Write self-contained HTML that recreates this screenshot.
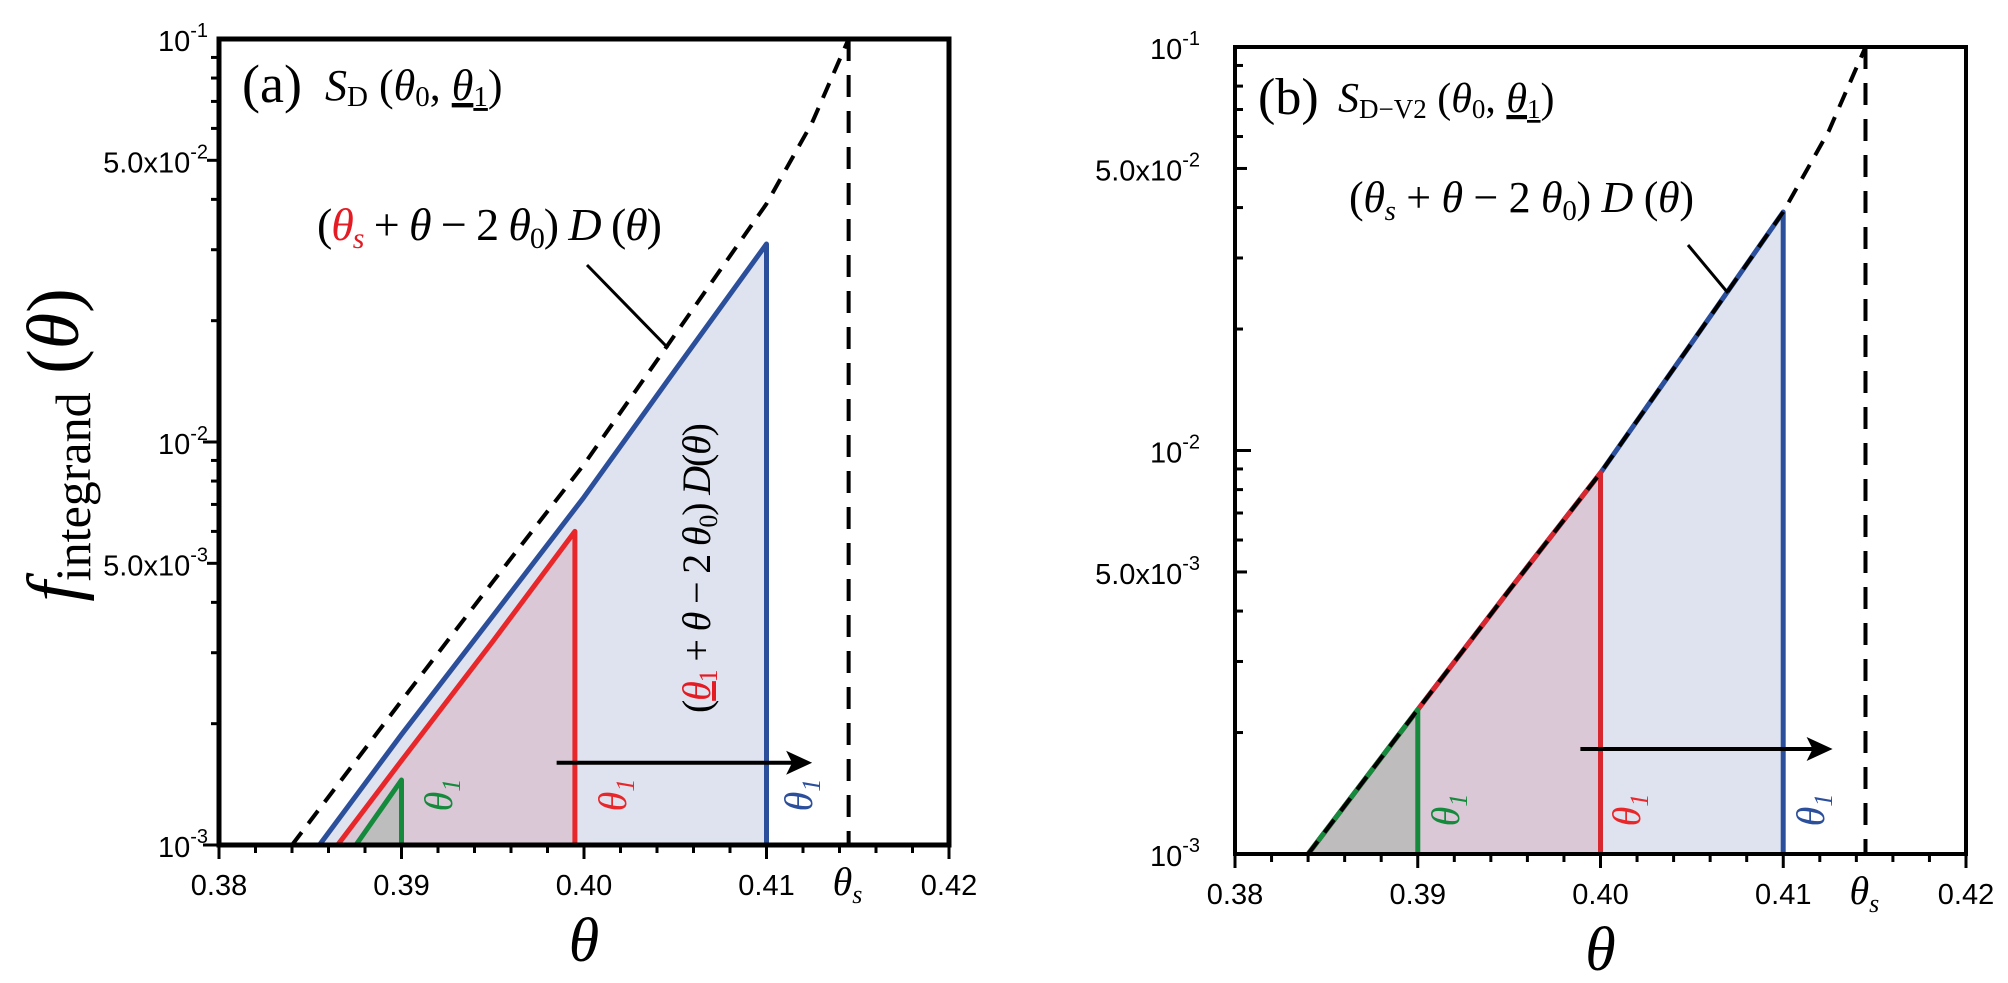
<!DOCTYPE html>
<html><head><meta charset="utf-8">
<style>
html,body{margin:0;padding:0;background:#fff;}
svg{display:block;}
text{font-family:"Liberation Serif",serif;}
.tick{font-family:"Liberation Sans",sans-serif;font-size:29px;fill:#000;}
</style></head>
<body>
<svg id="chart" width="2008" height="983" viewBox="0 0 2008 983" xmlns="http://www.w3.org/2000/svg">
<g id="pa"></g>
<g id="pb"></g>
</svg>
<script>
// shared data (theta, f)
const dashTheta = [0.384, 0.39, 0.395, 0.40, 0.405, 0.41, 0.4125, 0.4145];
const dashVal = [0.001, 0.00228, 0.0045, 0.0088, 0.0185, 0.039, 0.062, 0.1];
// panel a curves
const aBlueTheta = [0.3855, 0.39, 0.395, 0.40, 0.405, 0.41];
const aBlueVal = [0.001, 0.00188, 0.0037, 0.0073, 0.0151, 0.031];
const aRedTheta = [0.3865, 0.39, 0.395, 0.3995];
const aRedVal = [0.001, 0.00162, 0.0032, 0.006];
const aGreenTheta = [0.3875, 0.390];
const aGreenVal = [0.001, 0.00145];
// panel b endpoints (on dashed curve)
const bEnds = [0.39, 0.40, 0.41];
const thetaS = 0.4145;
const xTicks = [0.38, 0.39, 0.40, 0.41, 0.42];
const xTickLabels = ["0.38", "0.39", "0.40", "0.41", "0.42"];
const yTicks = [0.1, 0.05, 0.01, 0.005, 0.001];
const yTickBase = ["10", "5.0x10", "10", "5.0x10", "10"];
const yTickExp = ["-1", "-2", "-2", "-3", "-3"];

const NS = "http://www.w3.org/2000/svg";
function mk(parent, tag, attrs) {
  const e = document.createElementNS(NS, tag);
  for (const k in attrs) e.setAttribute(k, attrs[k]);
  parent.appendChild(e);
  return e;
}
function interp(ths, vs, t) {
  for (let i = 0; i < ths.length - 1; i++) {
    if (t >= ths[i] && t <= ths[i + 1]) {
      const f = (t - ths[i]) / (ths[i + 1] - ths[i]);
      return Math.pow(10, Math.log10(vs[i]) + f * (Math.log10(vs[i + 1]) - Math.log10(vs[i])));
    }
  }
  return vs[vs.length - 1];
}
function subCurve(ths, vs, t0, t1) {
  const pts = [[t0, interp(ths, vs, t0)]];
  for (let i = 0; i < ths.length; i++) if (ths[i] > t0 && ths[i] < t1) pts.push([ths[i], vs[i]]);
  pts.push([t1, interp(ths, vs, t1)]);
  return pts;
}

function panel(g, P) {
  const X = t => P.x0 + (t - 0.38) / 0.04 * (P.x1 - P.x0);
  const Y = v => P.yb - (Math.log10(v) + 3) / 2 * (P.yb - P.yt);
  const ptsStr = pts => pts.map(p => X(p[0]).toFixed(1) + "," + Y(p[1]).toFixed(1)).join(" ");
  P.series.forEach(s => {
    const pts = s.pts;
    const poly = ptsStr(pts) + " " + X(pts[pts.length - 1][0]).toFixed(1) + "," + P.yb + " " + X(pts[0][0]).toFixed(1) + "," + P.yb;
    const f = mk(g, "polygon", {points: poly, fill: s.fill});
    
    
  });
  P.series.forEach(s => {
    const pts = s.pts;
    const last = pts[pts.length - 1];
    const all = pts.concat([[last[0], 0.001]]);
    const l = mk(g, "polyline", {points: ptsStr(all), fill: "none", stroke: s.color, "stroke-width": 5, "stroke-linejoin": "round"});
    
    
  });
  const dpts = dashTheta.map((t, i) => [t, dashVal[i]]);
  const d = mk(g, "polyline", {points: ptsStr(dpts), fill: "none", stroke: "#000", "stroke-width": 4, "stroke-dasharray": "16,11", "stroke-linejoin": "round"});
  
  
  const vs = mk(g, "line", {x1: X(thetaS), x2: X(thetaS), y1: P.yt, y2: P.yb, stroke: "#000", "stroke-width": 4, "stroke-dasharray": "22,14"});
  
  
  const ax1 = X(P.arrow[0]), ax2 = X(P.arrow[1]), ay = Y(P.arrow[2]);
  const ar = mk(g, "line", {x1: ax1, x2: ax2 - 10, y1: ay, y2: ay, stroke: "#000", "stroke-width": 4});
  
  
  const ah = mk(g, "polygon", {points: `${ax2},${ay} ${ax2-26},${ay-12} ${ax2-20},${ay} ${ax2-26},${ay+12}`, fill: "#000"});
  
  
  const fr = mk(g, "rect", {x: P.x0, y: P.yt, width: P.x1 - P.x0, height: P.yb - P.yt, fill: "none", stroke: "#000", "stroke-width": P.sw});
  
  
  for (let k = 0; k <= 20; k++) {
    const t = 0.38 + k * 0.002;
    const len = k % 5 === 0 ? 14 : 8;
    const tk = mk(g, "line", {x1: X(t), x2: X(t), y1: P.yb, y2: P.yb + len, stroke: "#000", "stroke-width": 3});
    
    
  }
  xTicks.forEach((t, i) => {
    const tl = mk(g, "text", {x: X(t), y: P.yb + 50, "text-anchor": "middle", class: "tick"});
    tl.textContent = xTickLabels[i];
    
    
  });
  const tsl = mk(g, "text", {x: X(thetaS) - 16, y: P.yb + 50, "font-size": 40, "font-style": "italic"});
  tsl.innerHTML = 'θ<tspan font-size="26" dy="8">s</tspan>';
  
  
  for (let dec = -3; dec < -1; dec++) {
    for (let m = 1; m <= 9; m++) {
      const v = m * Math.pow(10, dec);
      const len = m === 1 ? 16 : (m === 5 ? 12 : 8);
      const tk = mk(g, "line", {x1: P.x0, x2: P.x0 + P.tdir * len, y1: Y(v), y2: Y(v), stroke: "#000", "stroke-width": 3});
      
      
    }
  }
  yTicks.forEach((v, i) => {
    const tl = mk(g, "text", {x: P.ylab, y: Y(v) + 12, "text-anchor": "end", class: "tick"});
    tl.innerHTML = yTickBase[i] + '<tspan font-size="20" dy="-14">' + yTickExp[i] + '</tspan>';
    
    
  });
  P.t1labels.forEach(l => {
    const tx = mk(g, "text", {x: 0, y: 0, transform: `translate(${l[0]},${l[1]}) rotate(-90)`, "font-size": 40, "font-style": "italic", fill: l[2], "text-anchor": "middle"});
    tx.innerHTML = 'θ<tspan font-size="26" dy="8">1</tspan>';
    
    
  });
  const xt = mk(g, "text", {x: (P.x0 + P.x1) / 2, y: P.yb + 116, "font-size": 62, "font-style": "italic", "text-anchor": "middle"});
  xt.textContent = "θ";
  
  
  return {X, Y};
}

const ga = document.getElementById("pa");
panel(ga, {
  x0: 219, x1: 949, yt: 39, yb: 845, sw: 5, tdir: -1, ylab: 208,
  arrow: [0.3985, 0.4125, 0.0016],
  series: [
    {name: "blue-area", color: "#2c4f9c", fill: "#dfe3ef", pts: aBlueTheta.map((t, i) => [t, aBlueVal[i]])},
    {name: "red-area", color: "#e8272a", fill: "#dbc8d6", pts: aRedTheta.map((t, i) => [t, aRedVal[i]])},
    {name: "green-area", color: "#158a3c", fill: "#bdbdbd", pts: aGreenTheta.map((t, i) => [t, aGreenVal[i]])}
  ],
  t1labels: [[452, 795, "#158a3c"], [626, 795, "#e8272a"], [812, 795, "#2c4f9c"]]
});
const gb = document.getElementById("pb");
panel(gb, {
  x0: 1235, x1: 1966, yt: 47, yb: 854, sw: 4, tdir: 1, ylab: 1200,
  arrow: [0.3989, 0.4127, 0.00182],
  series: [
    {name: "blue-area", color: "#2c4f9c", fill: "#dfe3ef", pts: subCurve(dashTheta, dashVal, 0.384, bEnds[2])},
    {name: "red-area", color: "#d7282f", fill: "#dbc8d6", pts: subCurve(dashTheta, dashVal, 0.384, bEnds[1])},
    {name: "green-area", color: "#158a3c", fill: "#bebcbd", pts: subCurve(dashTheta, dashVal, 0.384, bEnds[0])}
  ],
  t1labels: [[1459, 810, "#158a3c"], [1640, 810, "#e8272a"], [1824, 810, "#2c4f9c"]]
});
</script>
<svg style="position:absolute;left:0;top:0" width="2008" height="983">
<text x="242" y="102" font-family="Liberation Sans, sans-serif" font-size="54">(a)</text>
<text x="325" y="100" font-family="Liberation Serif, serif" font-size="44"><tspan font-style="italic">S</tspan><tspan font-size="29" dy="6">D</tspan><tspan dy="-6"> (</tspan><tspan font-style="italic">θ</tspan><tspan font-size="29" dy="6">0</tspan><tspan dy="-6">, </tspan><tspan font-style="italic" text-decoration="underline">θ</tspan><tspan font-size="29" dy="6" text-decoration="underline">1</tspan><tspan dy="-6">)</tspan></text>
<text x="317" y="240" font-family="Liberation Serif, serif" font-size="46" textLength="345">(<tspan font-style="italic" fill="#e41b23">θ</tspan><tspan font-size="30" dy="8" fill="#e41b23" font-style="italic">s</tspan><tspan dy="-8"> + </tspan><tspan font-style="italic">θ</tspan> − 2 <tspan font-style="italic">θ</tspan><tspan font-size="30" dy="8">0</tspan><tspan dy="-8">) </tspan><tspan font-style="italic">D</tspan> (<tspan font-style="italic">θ</tspan>)</text>
<line x1="587" y1="265" x2="668" y2="348" stroke="#000" stroke-width="3"/>
<text transform="translate(710,568) rotate(-90)" text-anchor="middle" font-family="Liberation Serif, serif" font-size="40" textLength="290">(<tspan font-style="italic" fill="#e41b23" text-decoration="underline">θ</tspan><tspan font-size="26" dy="7" fill="#e41b23">1</tspan><tspan dy="-7"> + </tspan><tspan font-style="italic">θ</tspan> − 2 <tspan font-style="italic">θ</tspan><tspan font-size="26" dy="7">0</tspan><tspan dy="-7">) </tspan><tspan font-style="italic">D</tspan>(<tspan font-style="italic">θ</tspan>)</text>
<text transform="translate(78,445) rotate(-90)" text-anchor="middle" font-family="Liberation Serif, serif" font-size="74"><tspan font-style="italic">f</tspan><tspan font-size="50" dy="12">integrand</tspan><tspan dy="-12"> (</tspan><tspan font-style="italic">θ</tspan>)</text>
<text x="1258" y="114" font-family="Liberation Sans, sans-serif" font-size="52">(b)</text>
<text x="1338" y="112" font-family="Liberation Serif, serif" font-size="42"><tspan font-style="italic">S</tspan><tspan font-size="27" dy="6">D−V2</tspan><tspan dy="-6"> (</tspan><tspan font-style="italic">θ</tspan><tspan font-size="27" dy="6">0</tspan><tspan dy="-6">, </tspan><tspan font-style="italic" text-decoration="underline">θ</tspan><tspan font-size="27" dy="6" text-decoration="underline">1</tspan><tspan dy="-6">)</tspan></text>
<text x="1349" y="212" font-family="Liberation Serif, serif" font-size="44" textLength="345">(<tspan font-style="italic">θ</tspan><tspan font-size="29" dy="8" font-style="italic">s</tspan><tspan dy="-8"> + </tspan><tspan font-style="italic">θ</tspan> − 2 <tspan font-style="italic">θ</tspan><tspan font-size="29" dy="8">0</tspan><tspan dy="-8">) </tspan><tspan font-style="italic">D</tspan> (<tspan font-style="italic">θ</tspan>)</text>
<line x1="1688" y1="245" x2="1728" y2="293" stroke="#000" stroke-width="3"/>
</svg>
</body></html>
